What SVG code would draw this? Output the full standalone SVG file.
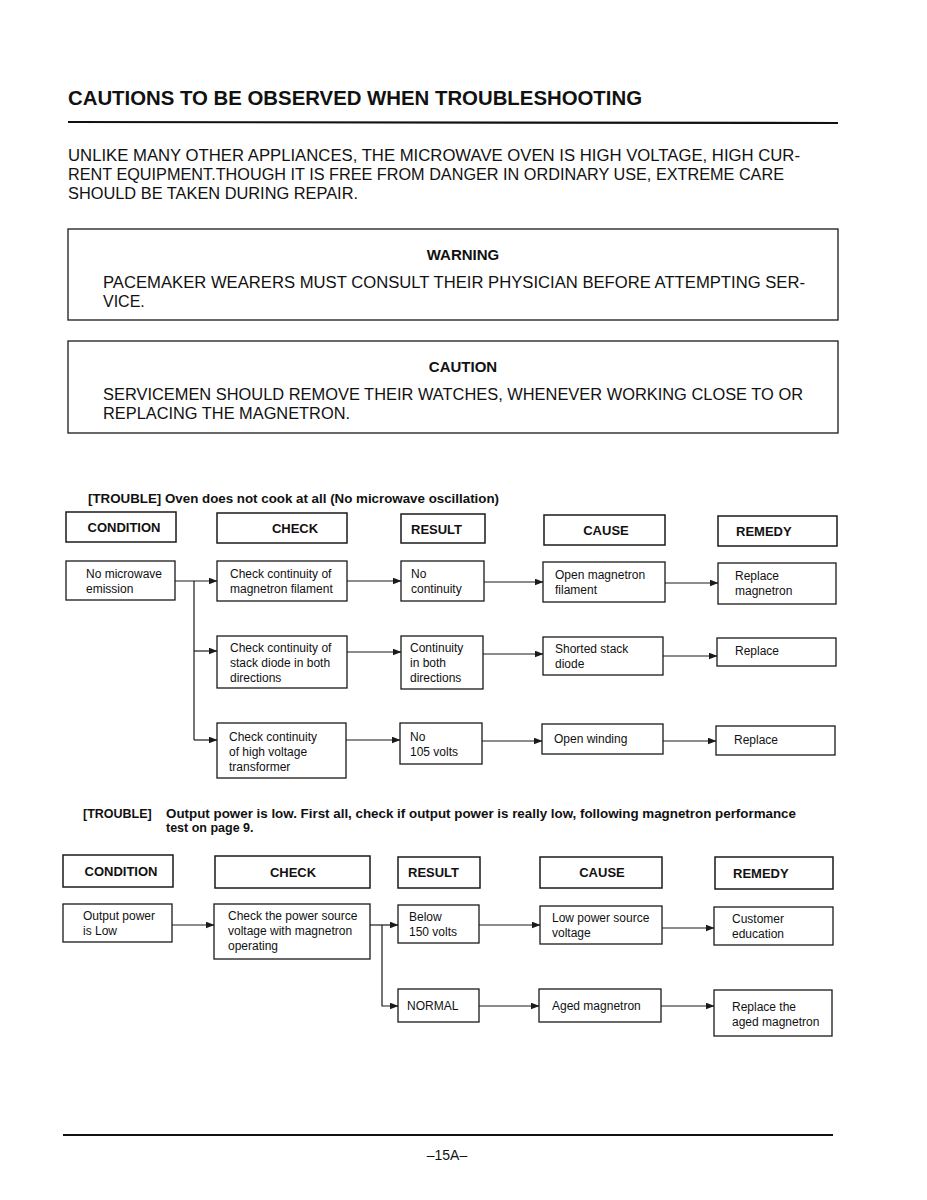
<svg xmlns="http://www.w3.org/2000/svg" width="927" height="1200" viewBox="0 0 927 1200">
<style>
text{font-family:"Liberation Sans",Arial,sans-serif;fill:#111}
.title{font-size:20px;font-weight:bold}
.para{font-size:16px}
.hd{font-size:15px;font-weight:bold}
.tr{font-size:12.5px;font-weight:bold}
.lab{font-size:13px;font-weight:bold}
.n{font-size:12px}
.box{fill:#fff;stroke:#1a1a1a;stroke-width:1.3}
.hbox{fill:#fff;stroke:#1a1a1a;stroke-width:1.5}
.c{fill:none;stroke:#1a1a1a;stroke-width:1.2}
.rule{stroke:#111;stroke-width:2.2}
</style>
<defs>
<marker id="ar" markerWidth="9" markerHeight="7" refX="8.5" refY="3.5" orient="auto" markerUnits="userSpaceOnUse">
<path d="M0,0 L9,3.5 L0,7 Z" fill="#1a1a1a"/>
</marker>
</defs>
<rect width="927" height="1200" fill="#fff"/>

<g id="header">
<text class="title" x="68" y="105" textLength="574" lengthAdjust="spacingAndGlyphs">CAUTIONS TO BE OBSERVED WHEN TROUBLESHOOTING</text>
<line class="rule" x1="68" y1="122" x2="838" y2="123"/>
<text class="para" x="68" y="161" textLength="732" lengthAdjust="spacingAndGlyphs">UNLIKE MANY OTHER APPLIANCES, THE MICROWAVE OVEN IS HIGH VOLTAGE, HIGH CUR-</text>
<text class="para" x="68" y="180" textLength="716" lengthAdjust="spacingAndGlyphs">RENT EQUIPMENT.THOUGH IT IS FREE FROM DANGER IN ORDINARY USE, EXTREME CARE</text>
<text class="para" x="68" y="199" textLength="290" lengthAdjust="spacingAndGlyphs">SHOULD BE TAKEN DURING REPAIR.</text>
</g>

<g id="warning">
<rect class="box" x="68" y="229" width="770" height="91"/>
<text class="hd" x="463" y="260" text-anchor="middle">WARNING</text>
<text class="para" x="103" y="288" textLength="702" lengthAdjust="spacingAndGlyphs">PACEMAKER WEARERS MUST CONSULT THEIR PHYSICIAN BEFORE ATTEMPTING SER-</text>
<text class="para" x="103" y="307">VICE.</text>
</g>

<g id="caution">
<rect class="box" x="68" y="341" width="770" height="92"/>
<text class="hd" x="463" y="372" text-anchor="middle">CAUTION</text>
<text class="para" x="103" y="400" textLength="700" lengthAdjust="spacingAndGlyphs">SERVICEMEN SHOULD REMOVE THEIR WATCHES, WHENEVER WORKING CLOSE TO OR</text>
<text class="para" x="103" y="419" textLength="247" lengthAdjust="spacingAndGlyphs">REPLACING THE MAGNETRON.</text>
</g>

<g id="trouble1-title">
<text class="tr" x="88" y="503" textLength="411" lengthAdjust="spacingAndGlyphs">[TROUBLE] Oven does not cook at all (No microwave oscillation)</text>
</g>

<g id="t1-h-condition"><rect class="hbox" x="66" y="512" width="110" height="30"/><text class="lab" x="124" y="532" text-anchor="middle">CONDITION</text></g>
<g id="t1-h-check"><rect class="hbox" x="217" y="513" width="130" height="30"/><text class="lab" x="295" y="533" text-anchor="middle">CHECK</text></g>
<g id="t1-h-result"><rect class="hbox" x="401" y="514" width="84" height="29"/><text class="lab" x="411" y="534">RESULT</text></g>
<g id="t1-h-cause"><rect class="hbox" x="544" y="515" width="121" height="30"/><text class="lab" x="606" y="535" text-anchor="middle">CAUSE</text></g>
<g id="t1-h-remedy"><rect class="hbox" x="718" y="516" width="119" height="30"/><text class="lab" x="736" y="536">REMEDY</text></g>

<g id="t1-cond"><rect class="box" x="66" y="561" width="109" height="39"/><text class="n" x="86" y="578">No microwave</text><text class="n" x="86" y="593">emission</text></g>
<g id="t1-check1"><rect class="box" x="217" y="561" width="130" height="40"/><text class="n" x="230" y="578">Check continuity of</text><text class="n" x="230" y="593">magnetron filament</text></g>
<g id="t1-res1"><rect class="box" x="401" y="561" width="83" height="40"/><text class="n" x="411" y="578">No</text><text class="n" x="411" y="593">continuity</text></g>
<g id="t1-cause1"><rect class="box" x="543" y="562" width="122" height="40"/><text class="n" x="555" y="579">Open magnetron</text><text class="n" x="555" y="594">filament</text></g>
<g id="t1-rem1"><rect class="box" x="718" y="563" width="118" height="41"/><text class="n" x="735" y="580">Replace</text><text class="n" x="735" y="595">magnetron</text></g>

<g id="t1-check2"><rect class="box" x="217" y="636" width="130" height="52"/><text class="n" x="230" y="652">Check continuity of</text><text class="n" x="230" y="667">stack diode in both</text><text class="n" x="230" y="682">directions</text></g>
<g id="t1-res2"><rect class="box" x="401" y="636" width="82" height="53"/><text class="n" x="410" y="652">Continuity</text><text class="n" x="410" y="667">in both</text><text class="n" x="410" y="682">directions</text></g>
<g id="t1-cause2"><rect class="box" x="543" y="637" width="120" height="38"/><text class="n" x="555" y="653">Shorted stack</text><text class="n" x="555" y="668">diode</text></g>
<g id="t1-rem2"><rect class="box" x="717" y="638" width="119" height="28"/><text class="n" x="735" y="655">Replace</text></g>

<g id="t1-check3"><rect class="box" x="217" y="723" width="129" height="55"/><text class="n" x="229" y="741">Check continuity</text><text class="n" x="229" y="756">of high voltage</text><text class="n" x="229" y="771">transformer</text></g>
<g id="t1-res3"><rect class="box" x="400" y="723" width="82" height="41"/><text class="n" x="410" y="741">No</text><text class="n" x="410" y="756">105 volts</text></g>
<g id="t1-cause3"><rect class="box" x="542" y="724" width="121" height="30"/><text class="n" x="554" y="743">Open winding</text></g>
<g id="t1-rem3"><rect class="box" x="716" y="726" width="119" height="29"/><text class="n" x="734" y="744">Replace</text></g>

<g id="trouble2-title">
<text class="tr" x="83" y="818">[TROUBLE]</text>
<text class="tr" x="166" y="818" textLength="630" lengthAdjust="spacingAndGlyphs">Output power is low. First all, check if output power is really low, following magnetron performance</text>
<text class="tr" x="166" y="832">test on page 9.</text>
</g>

<g id="t2-h-condition"><rect class="hbox" x="63" y="855" width="110" height="32"/><text class="lab" x="121" y="876" text-anchor="middle">CONDITION</text></g>
<g id="t2-h-check"><rect class="hbox" x="215" y="856" width="155" height="32"/><text class="lab" x="293" y="877" text-anchor="middle">CHECK</text></g>
<g id="t2-h-result"><rect class="hbox" x="398" y="857" width="82" height="31"/><text class="lab" x="408" y="877">RESULT</text></g>
<g id="t2-h-cause"><rect class="hbox" x="540" y="857" width="122" height="31"/><text class="lab" x="602" y="877" text-anchor="middle">CAUSE</text></g>
<g id="t2-h-remedy"><rect class="hbox" x="715" y="857" width="118" height="32"/><text class="lab" x="733" y="878">REMEDY</text></g>

<g id="t2-cond"><rect class="box" x="63" y="904" width="109" height="38"/><text class="n" x="83" y="920">Output power</text><text class="n" x="83" y="935">is Low</text></g>
<g id="t2-check"><rect class="box" x="214" y="904" width="156" height="55"/><text class="n" x="228" y="920">Check the power source</text><text class="n" x="228" y="935">voltage with magnetron</text><text class="n" x="228" y="950">operating</text></g>
<g id="t2-res1"><rect class="box" x="398" y="905" width="81" height="38"/><text class="n" x="409" y="921">Below</text><text class="n" x="409" y="936">150 volts</text></g>
<g id="t2-cause1"><rect class="box" x="540" y="906" width="122" height="38"/><text class="n" x="552" y="922">Low power source</text><text class="n" x="552" y="937">voltage</text></g>
<g id="t2-rem1"><rect class="box" x="714" y="907" width="119" height="38"/><text class="n" x="732" y="923">Customer</text><text class="n" x="732" y="938">education</text></g>
<g id="t2-res2"><rect class="box" x="398" y="989" width="81" height="33"/><text class="n" x="407" y="1010">NORMAL</text></g>
<g id="t2-cause2"><rect class="box" x="539" y="989" width="122" height="33"/><text class="n" x="552" y="1010">Aged magnetron</text></g>
<g id="t2-rem2"><rect class="box" x="714" y="990" width="118" height="46"/><text class="n" x="732" y="1011">Replace the</text><text class="n" x="732" y="1026">aged magnetron</text></g>

<g id="connectors">
<path class="c" d="M175,581 H217" marker-end="url(#ar)"/>
<path class="c" d="M194,581 V740"/>
<path class="c" d="M347,581 H401" marker-end="url(#ar)"/>
<path class="c" d="M484,582 H543" marker-end="url(#ar)"/>
<path class="c" d="M665,583 H718" marker-end="url(#ar)"/>
<path class="c" d="M194,651 H217" marker-end="url(#ar)"/>
<path class="c" d="M347,652 H401" marker-end="url(#ar)"/>
<path class="c" d="M483,654 H543" marker-end="url(#ar)"/>
<path class="c" d="M663,656 H717" marker-end="url(#ar)"/>
<path class="c" d="M194,740 H217" marker-end="url(#ar)"/>
<path class="c" d="M346,740 H400" marker-end="url(#ar)"/>
<path class="c" d="M482,741 H542" marker-end="url(#ar)"/>
<path class="c" d="M663,741 H716" marker-end="url(#ar)"/>

<path class="c" d="M172,925 H214" marker-end="url(#ar)"/>
<path class="c" d="M370,925 H398" marker-end="url(#ar)"/>
<path class="c" d="M382,925 V1006 H398" marker-end="url(#ar)"/>
<path class="c" d="M479,925 H540" marker-end="url(#ar)"/>
<path class="c" d="M662,928 H714" marker-end="url(#ar)"/>
<path class="c" d="M479,1006 H539" marker-end="url(#ar)"/>
<path class="c" d="M661,1006 H714" marker-end="url(#ar)"/>
</g>

<g id="footer">
<line class="rule" x1="63" y1="1135" x2="833" y2="1135" style="stroke-width:1.8"/>
<text class="para" x="447" y="1160" text-anchor="middle" style="font-size:14px">–15A–</text>
</g>
</svg>
